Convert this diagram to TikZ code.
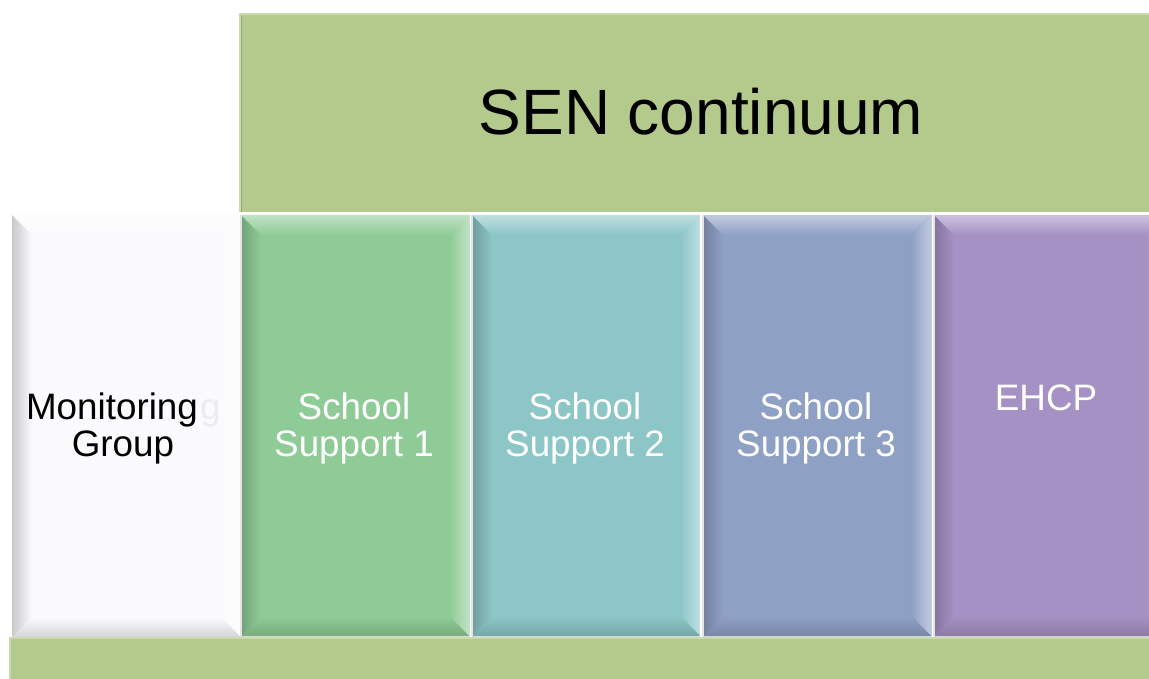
\documentclass[tikz,border=0pt]{standalone}
\usepackage{fontspec}
\setmainfont{Liberation Sans}
\usetikzlibrary{calc}
\definecolor{topgreen}{RGB}{180,201,140}
\definecolor{monw}{RGB}{251,251,253}
\definecolor{cgreen}{RGB}{143,203,150}
\definecolor{ccyan}{RGB}{140,198,199}
\definecolor{cblue}{RGB}{143,160,197}
\definecolor{cpurple}{RGB}{165,145,195}
\tikzset{
  col/.style={draw=none, fill=#1, minimum width=228pt, minimum height=421pt, inner sep=0pt, anchor=north west},
  lbl/.style={font=\fontsize{36.8}{37}\selectfont, text=white, align=center, inner sep=0pt},
  band/.style={fill=topgreen, draw=none, inner sep=0pt, anchor=north west}
}
\newcommand{\bevelbox}[2]{%
  \shade[left color=#2!80!black, right color=#2] (#1.north west) -- ++(20,20) -- ($(#1.south west)+(20,-20)$) -- (#1.south west) -- cycle;
  \shade[top color=#2!55!white, bottom color=#2] (#1.north west) -- (#1.north east) -- ($(#1.north east)+(-20,20)$) -- ($(#1.north west)+(20,20)$) -- cycle;
  \shade[left color=#2, right color=#2!55!white] (#1.north east) -- (#1.south east) -- ($(#1.south east)+(-20,-20)$) -- ($(#1.north east)+(-20,20)$) -- cycle;
  \shade[top color=#2, bottom color=#2!84!black] (#1.south west) -- (#1.south east) -- ($(#1.south east)+(-20,-20)$) -- ($(#1.south west)+(20,-20)$) -- cycle;
}
\begin{document}
\begin{tikzpicture}[x=1pt,y=-1pt]
\useasboundingbox (0,0) rectangle (1149,679);
\clip (0,0) rectangle (1149,679);
\fill[white] (0,0) rectangle (1149,679);
% top band
\node[band, minimum width=930pt, minimum height=198pt] (top) at (240,14) {};
\draw[topgreen!70!white, line width=1.5pt] (top.south west) -- (top.north west) -- (top.north east);
\draw[topgreen!85!black, line width=1pt] ($(top.south west)+(1.5,0)$) -- ($(top.north west)+(1.5,1.5)$);
\node[font=\fontsize{64}{70}\selectfont, text=black, inner sep=0pt] (title) at (701,112) {SEN continuum};
% columns
\node[col=monw, draw={rgb,255:red,208;green,208;blue,216}, line width=1.5pt] (mon) at (12,215) {};
\bevelbox{mon}{monw}
\node[col=cgreen] (s1) at (241,215) {};
\bevelbox{s1}{cgreen}
\node[col=ccyan] (s2) at (472,215) {};
\bevelbox{s2}{ccyan}
\node[col=cblue] (s3) at (703,215) {};
\bevelbox{s3}{cblue}
\node[col=cpurple, minimum width=232pt] (eh) at (934,215) {};
\bevelbox{eh}{cpurple}
% separators
\foreach \n in {s1,s2,s3,eh}{
  \draw[white!80!gray, line width=1.2pt] (\n.north west) -- (\n.south west);
}
% bottom band
\node[band, minimum width=1160pt, minimum height=60pt] (bot) at (10,638) {};
\draw[topgreen!70!white, line width=1.5pt] (bot.south west) -- (bot.north west) -- (bot.north east);
% labels
\node[lbl, text={rgb,255:red,236;green,236;blue,238}, anchor=base west] (ghost) at (200,419) {g};
\node[lbl, text=black] (monl1) at (112,410) {Monitoring};
\node[lbl, text=black] (monl2) at (123,447) {Group};
\node[lbl] (l1) at (354,428.5) {School\\Support 1};
\node[lbl] (l2) at (585,428.5) {School\\Support 2};
\node[lbl] (l3) at (816,428.5) {School\\Support 3};
\node[lbl] (l4) at (1046,398) {EHCP};
\end{tikzpicture}
\end{document}
